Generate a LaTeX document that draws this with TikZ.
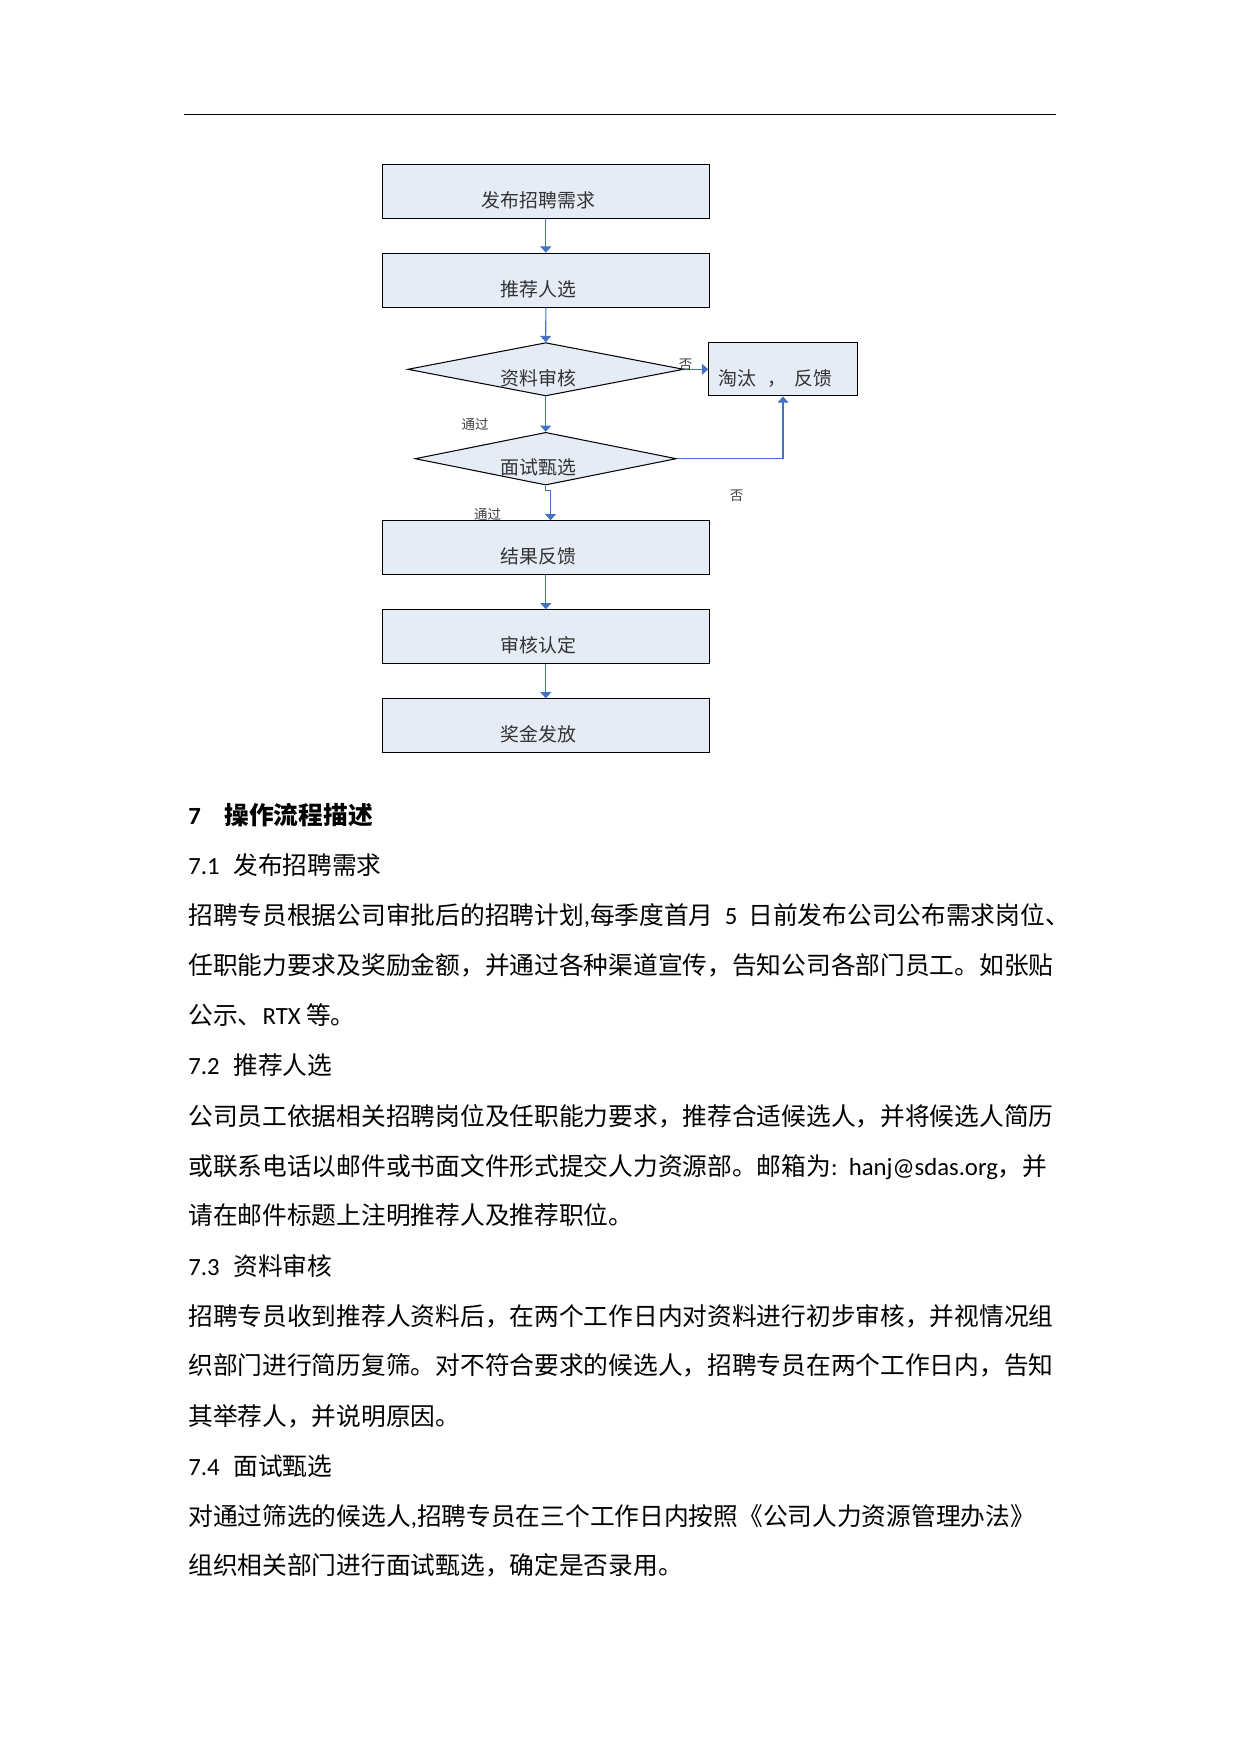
\documentclass[tikz,border=0pt]{standalone}
\usepackage{fontspec}
\setmainfont{Noto Sans CJK SC}
\newfontfamily\lat{Carlito}
\usetikzlibrary{positioning, arrows.meta, shapes.geometric}
\definecolor{FlowBlue}{RGB}{68,114,196}
\definecolor{BoxFill}{RGB}{230,236,246}
\tikzset{
  flowbox/.style={draw=black, line width=0.5pt, fill=BoxFill, minimum width=5.534cm, minimum height=0.914cm,
    inner sep=0pt, font=\fontsize{9.1}{10}\selectfont, text=black!80, text height=1.55em, text depth=0pt,
    execute at end node={\hspace*{0.8em}}},
  decision/.style={flowbox, diamond, aspect=5.3},
  flowarr/.style={-{Triangle[width=5.3pt,length=3pt]}, line width=0.5pt, FlowBlue},
  tag/.style={font=\fontsize{6.5}{7}\selectfont, text=black!75, inner sep=0pt},
  bodytxt/.style={anchor=base west, inner sep=0pt, font=\fontsize{11.9}{14}\selectfont},
}
\begin{document}
\begin{tikzpicture}[x=0.016922cm, y=-0.016922cm]
  \useasboundingbox (0,0) rectangle (1241,1754);
  \draw[line width=0.6pt] (184,114.3) -- (1055.7,114.3);
  % flow chart
  \node[flowbox] (post) at (545.8,191.3) {发布招聘需求};
  \node[flowbox] (recommend) at (545.8,280.2) {推荐人选};
  \node[decision, minimum width=4.67cm, minimum height=0.902cm] (review) at (545.7,369.3) {资料审核};
  \node[flowbox, minimum width=2.515cm, minimum height=0.902cm] (reject) at (783,369.3) {淘汰\hspace{0.6em}，\hspace{0.4em}反馈};
  \node[decision, minimum width=4.26cm, minimum height=0.892cm] (interview) at (545.7,458.7) {面试甄选};
  \node[flowbox] (result) at (545.8,547.8) {结果反馈};
  \node[flowbox] (confirm) at (545.8,636.8) {审核认定};
  \node[flowbox] (bonus) at (545.8,725.8) {奖金发放};
  \foreach \a/\b in {post/recommend, recommend/review, review/interview, result/confirm, confirm/bonus}
    \draw[flowarr] (\a.south) -- (\b.north);
  \draw[flowarr] (review.east) -- (reject.west);
  \draw[flowarr] (interview.east) -| (reject.south);
  \draw[flowarr] (interview.south) -- ++(0,5) -| ([xshift=0.08cm]result.north);
  \node[tag] (no1) at (685.5,364.5) {否};
  \node[tag] (pass1) at (475,424) {通过};
  \node[tag] (no2) at (736.7,495.7) {否};
  \node[tag] (pass2) at (487.5,514) {通过};
  % text below
  \node[bodytxt] (h7) at (188,824) {\bfseries{\lat 7}\hspace{0.95em}操作流程描述};
  \node[bodytxt] (s71) at (188,874) {{\lat 7.1}\hspace{0.55em}发布招聘需求};
  \node[bodytxt] (p71a) at (188,924) {招聘专员根据公司审批后的招聘计划{\lat ,}每季度首月{\lat\ \ 5\ \ }日前发布公司公布需求岗位、};
  \node[bodytxt] (p71b) at (188,974) {任职能力要求及奖励金额，并通过各种渠道宣传，告知公司各部门员工。如张贴};
  \node[bodytxt] (p71c) at (188,1024) {公示、{\lat RTX }等。};
  \node[bodytxt] (s72) at (188,1074) {{\lat 7.2}\hspace{0.55em}推荐人选};
  \node[bodytxt] (p72a) at (188,1125) {公司员工依据相关招聘岗位及任职能力要求，推荐合适候选人，并将候选人简历};
  \node[bodytxt] (p72b) at (188,1175) {或联系电话以邮件或书面文件形式提交人力资源部。邮箱为{\lat:\ \ hanj@sdas.org}，并};
  \node[bodytxt] (p72c) at (188,1224) {请在邮件标题上注明推荐人及推荐职位。};
  \node[bodytxt] (s73) at (188,1275) {{\lat 7.3}\hspace{0.55em}资料审核};
  \node[bodytxt] (p73a) at (188,1325) {招聘专员收到推荐人资料后，在两个工作日内对资料进行初步审核，并视情况组};
  \node[bodytxt] (p73b) at (188,1374) {织部门进行简历复筛。对不符合要求的候选人，招聘专员在两个工作日内，告知};
  \node[bodytxt] (p73c) at (188,1425) {其举荐人，并说明原因。};
  \node[bodytxt] (s74) at (188,1475) {{\lat 7.4}\hspace{0.55em}面试甄选};
  \node[bodytxt] (p74a) at (188,1525) {对通过筛选的候选人{\lat ,}招聘专员在三个工作日内按照《公司人力资源管理办法》};
  \node[bodytxt] (p74b) at (188,1574) {组织相关部门进行面试甄选，确定是否录用。};
\end{tikzpicture}
\end{document}
